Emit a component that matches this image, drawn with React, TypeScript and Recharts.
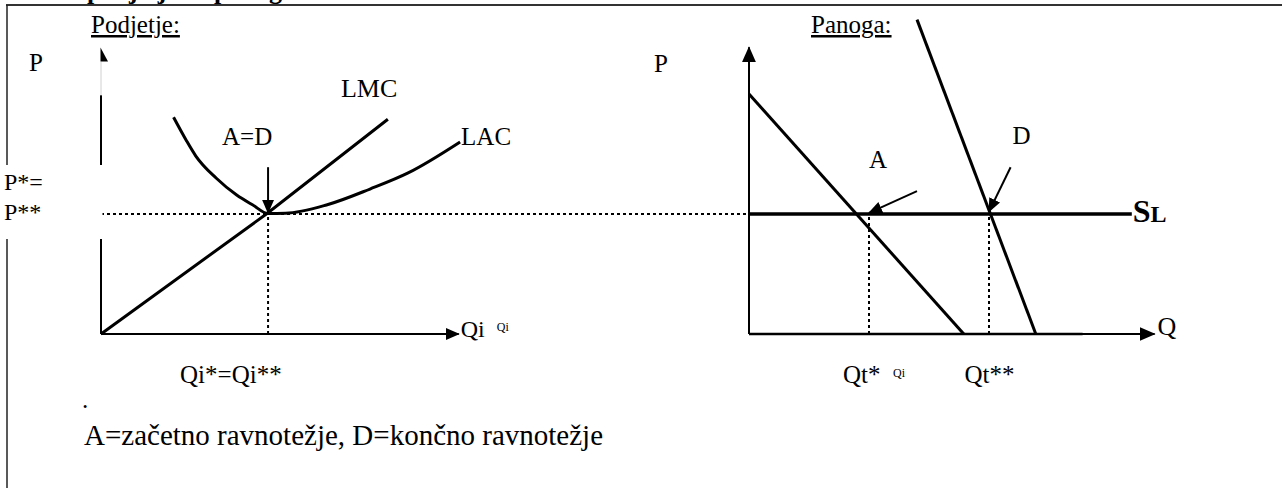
import React from 'react';
import { ComposedChart, Line, XAxis, YAxis, ReferenceLine, ReferenceDot } from 'recharts';

const W = 1282;
const H = 488;
const FONT = '"Liberation Serif", serif';

// ---------- shared price scale ----------
const P_DOMAIN = [0, 26.5];
const P_STAR = 10; // P* = P**
const P_AXIS_TOP = 23.9;

// ---------- Podjetje (firm) ----------
const FIRM_DOMAIN = [0, 32];
const QI_STAR = 4.95; // Qi* = Qi**
const QI_AXIS_END = 10.6;
const P_FIRM_AXIS_SOLID = 19.9;
const P_FIRM_AXIS_FAINT = 22.7;
const P_STAR_LINE_END_QI = 19.15;
const FIRM_ARROW_FROM_P = 13.9;
const FIRM_ARROW_TO_P = 10.1;

const lmcQi = [0, 4.9, 8.5];
const lmcP = [0, 10, 17.9];
const lacQi = [2.15, 2.52, 2.81, 3.41, 4.02, 4.5, 4.95, 5.47, 6.68, 7.97, 9.1, 10.64];
const lacP = [18.06, 16.17, 14.83, 13.0, 11.58, 10.75, 10.04, 10.06, 10.75, 12.08, 13.42, 16.0];

// ---------- Panoga (industry) ----------
const IND_DOMAIN = [-54, 36];
const QT_STAR = 10;
const QT_STAR2 = 20;
const Q_AXIS_END = 33.8;
const Q_AXIS_THICK_END = 27.8;
const demandAQ = [0, 17.9];
const demandAP = [20, 0];
const demandDQ = [14, 23.9];
const demandDP = [26.2, 0];
const supplyQ = [0, 31.9];
const arrowAQ = [14, 10];
const arrowAP = [11.9, 10.1];
const arrowDQ = [21.8, 20];
const arrowDP = [13.9, 10.2];

// ---------- texts ----------
const titleText = 'podjetja in panoge';
const panelTitles = ['Podjetje:', 'Panoga:'];
const legendText = 'A=začetno ravnotežje, D=končno ravnotežje';
const pStarLabels = ['P*=', 'P**'];

const toFirm = (qs: number[], ps: number[]) => qs.map((qi, i) => ({ qi, p: ps[i] }));
const toInd = (qs: number[], ps: number[]) => qs.map((q, i) => ({ q, p: ps[i] }));

const lmcData = toFirm(lmcQi, lmcP);
const lacData = toFirm(lacQi, lacP);
const demandAData = toInd(demandAQ, demandAP);
const demandDData = toInd(demandDQ, demandDP);
const supplyData = toInd(supplyQ, [P_STAR, P_STAR]);

const txt =
  (s: string, dx: number, dy: number, size = 25, extra: any = {}) =>
  (props: any) => (
    <text x={props.cx + dx} y={props.cy + dy} style={{ fontFamily: FONT, fontSize: size }} fill="#000" {...extra}>
      {s}
    </text>
  );

const halfArrow = (props: any) => (
  <polygon
    points={`${props.cx - 0.5},${props.cy - 14} ${props.cx + 7},${props.cy} ${props.cx - 0.5},${props.cy}`}
    fill="#000"
  />
);

const slLabel = (props: any) => (
  <text x={props.cx + 1} y={props.cy + 8} style={{ fontFamily: FONT, fontWeight: 'bold' }} fill="#000">
    <tspan style={{ fontSize: 32 }}>S</tspan>
    <tspan style={{ fontSize: 24 }}>L</tspan>
  </text>
);

const dotted = { stroke: '#000', strokeWidth: 2, strokeDasharray: '3 3' };
const solid = { stroke: '#000', strokeWidth: 2 };

export default function App() {
  const t = (size: number, extra: any = {}) => ({ fontFamily: FONT, fontSize: size, ...extra });
  return (
    <div style={{ position: 'absolute', left: 0, top: 0, width: W, height: H, background: '#fff' }}>
      <div style={{ position: 'absolute', left: 0, top: 0 }}>
        <ComposedChart width={W} height={H} margin={{ top: 16, right: 101, bottom: 154, left: 101 }}>
          <defs>
            <marker id="arrowSmall" viewBox="0 0 14 12" refX="13" refY="6" markerWidth="14" markerHeight="12"
              markerUnits="userSpaceOnUse" orient="auto">
              <path d="M0,0 L14,6 L0,12 z" fill="#000" />
            </marker>
            <marker id="arrowBig" viewBox="0 0 16 14" refX="15" refY="7" markerWidth="16" markerHeight="14"
              markerUnits="userSpaceOnUse" orient="auto">
              <path d="M0,0 L16,7 L0,14 z" fill="#000" />
            </marker>
          </defs>
          <XAxis xAxisId="firm" type="number" dataKey="qi" domain={FIRM_DOMAIN} hide />
          <XAxis xAxisId="ind" type="number" dataKey="q" domain={IND_DOMAIN} hide />
          <YAxis type="number" domain={P_DOMAIN} hide />

          {/* ----- firm axes ----- */}
          <ReferenceLine xAxisId="firm" segment={[{ x: 0, y: 0 }, { x: 0, y: P_FIRM_AXIS_SOLID }]} {...solid} />
          <ReferenceLine xAxisId="firm" segment={[{ x: 0, y: P_FIRM_AXIS_SOLID }, { x: 0, y: P_FIRM_AXIS_FAINT }]}
            stroke="#d0d0d0" strokeWidth={1} />
          <ReferenceDot xAxisId="firm" x={0} y={P_FIRM_AXIS_FAINT} shape={halfArrow} ifOverflow="visible" />
          <ReferenceLine xAxisId="firm" segment={[{ x: 0, y: 0 }, { x: QI_AXIS_END, y: 0 }]} {...solid}
            markerEnd="url(#arrowSmall)" />

          {/* ----- firm guides ----- */}
          <ReferenceLine xAxisId="firm" segment={[{ x: 0, y: P_STAR }, { x: P_STAR_LINE_END_QI, y: P_STAR }]} {...dotted} />
          <ReferenceLine xAxisId="firm" segment={[{ x: QI_STAR, y: 0 }, { x: QI_STAR, y: P_STAR }]} {...dotted} />

          {/* ----- industry axes ----- */}
          <ReferenceLine xAxisId="ind" segment={[{ x: 0, y: 0 }, { x: 0, y: P_AXIS_TOP }]} {...solid}
            markerEnd="url(#arrowBig)" />
          <ReferenceLine xAxisId="ind" segment={[{ x: 0, y: 0 }, { x: Q_AXIS_END, y: 0 }]} {...solid}
            markerEnd="url(#arrowBig)" />
          <ReferenceLine xAxisId="ind" segment={[{ x: 0, y: 0 }, { x: Q_AXIS_THICK_END, y: 0 }]} stroke="#000"
            strokeWidth={2.6} />
          <ReferenceLine xAxisId="ind" segment={[{ x: QT_STAR, y: 0 }, { x: QT_STAR, y: P_STAR }]} {...dotted} />
          <ReferenceLine xAxisId="ind" segment={[{ x: QT_STAR2, y: 0 }, { x: QT_STAR2, y: P_STAR }]} {...dotted} />

          {/* ----- curves ----- */}
          <Line xAxisId="firm" data={lmcData} dataKey="p" type="linear" stroke="#000" strokeWidth={3}
            dot={false} activeDot={false} isAnimationActive={false} />
          <Line xAxisId="firm" data={lacData} dataKey="p" type="monotone" stroke="#000" strokeWidth={3}
            dot={false} activeDot={false} isAnimationActive={false} />
          <Line xAxisId="ind" data={demandAData} dataKey="p" type="linear" stroke="#000" strokeWidth={3}
            dot={false} activeDot={false} isAnimationActive={false} />
          <Line xAxisId="ind" data={demandDData} dataKey="p" type="linear" stroke="#000" strokeWidth={3}
            dot={false} activeDot={false} isAnimationActive={false} />
          <Line xAxisId="ind" data={supplyData} dataKey="p" type="linear" stroke="#000" strokeWidth={3.5}
            dot={false} activeDot={false} isAnimationActive={false} />

          {/* ----- pointer arrows ----- */}
          <ReferenceLine xAxisId="firm" segment={[{ x: QI_STAR, y: FIRM_ARROW_FROM_P }, { x: QI_STAR, y: FIRM_ARROW_TO_P }]}
            {...solid} markerEnd="url(#arrowSmall)" />
          <ReferenceLine xAxisId="ind" segment={[{ x: arrowAQ[0], y: arrowAP[0] }, { x: arrowAQ[1], y: arrowAP[1] }]}
            {...solid} markerEnd="url(#arrowSmall)" />
          <ReferenceLine xAxisId="ind" segment={[{ x: arrowDQ[0], y: arrowDP[0] }, { x: arrowDQ[1], y: arrowDP[1] }]}
            {...solid} markerEnd="url(#arrowSmall)" />

          {/* ----- labels anchored to the data ----- */}
          <ReferenceDot xAxisId="firm" x={0} y={P_AXIS_TOP} ifOverflow="visible" shape={txt('P', -72, 24)} />
          <ReferenceDot xAxisId="ind" x={0} y={P_AXIS_TOP} ifOverflow="visible" shape={txt('P', -95, 25)} />
          <ReferenceDot xAxisId="firm" x={lmcQi[2]} y={lmcP[2]} ifOverflow="visible" shape={txt('LMC', -47, -22, 26)} />
          <ReferenceDot xAxisId="firm" x={lacQi[lacQi.length - 1]} y={lacP[lacP.length - 1]} ifOverflow="visible"
            shape={txt('LAC', 1, 3)} />
          <ReferenceDot xAxisId="firm" x={QI_STAR} y={FIRM_ARROW_FROM_P} ifOverflow="visible" shape={txt('A=D', -46, -22)} />
          <ReferenceDot xAxisId="firm" x={QI_AXIS_END} y={0} ifOverflow="visible" shape={txt('Qi', 2, 3, 24)} />
          <ReferenceDot xAxisId="firm" x={QI_AXIS_END} y={0} ifOverflow="visible" shape={txt('Qi', 38, -3, 12)} />
          <ReferenceDot xAxisId="firm" x={QI_STAR} y={0} ifOverflow="visible" shape={txt('Qi*=Qi**', -88, 49)} />

          <ReferenceDot xAxisId="ind" x={arrowAQ[0]} y={arrowAP[0]} ifOverflow="visible" shape={txt('A', -48, -23)} />
          <ReferenceDot xAxisId="ind" x={arrowDQ[0]} y={arrowDP[0]} ifOverflow="visible" shape={txt('D', 2, -23)} />
          <ReferenceDot xAxisId="ind" x={supplyQ[1]} y={P_STAR} ifOverflow="visible" shape={slLabel} />
          <ReferenceDot xAxisId="ind" x={Q_AXIS_END} y={0} ifOverflow="visible" shape={txt('Q', 3, 1, 26)} />
          <ReferenceDot xAxisId="ind" x={QT_STAR} y={0} ifOverflow="visible" shape={txt('Qt*', -26, 49)} />
          <ReferenceDot xAxisId="ind" x={QT_STAR} y={0} ifOverflow="visible" shape={txt('Qi', 24, 43, 12)} />
          <ReferenceDot xAxisId="ind" x={QT_STAR2} y={0} ifOverflow="visible" shape={txt('Qt**', -24.5, 49)} />
        </ComposedChart>
      </div>

      {/* page frame and page texts */}
      <svg width={W} height={H} style={{ position: 'absolute', left: 0, top: 0, pointerEvents: 'none' }} fill="#000">
        <text x={87} y={-1} style={t(26, { fontWeight: 'bold' })}>{titleText}</text>
        <line x1={6} y1={5} x2={W} y2={5} stroke="#333" strokeWidth={2} />
        <line x1={7} y1={5} x2={7} y2={H} stroke="#222" strokeWidth={1.5} />
        <rect x={0} y={165} width={102.5} height={74} fill="#fff" />
        <text x={4} y={190} style={t(24)}>{pStarLabels[0]}</text>
        <text x={4} y={220} style={t(24)}>{pStarLabels[1]}</text>
        <text x={91} y={33} style={t(25, { textDecoration: 'underline' })}>{panelTitles[0]}</text>
        <text x={811} y={33} style={t(25, { textDecoration: 'underline' })}>{panelTitles[1]}</text>
        <text x={82} y={408} style={t(25)}>.</text>
        <text x={84} y={445} style={t(29)}>{legendText}</text>
      </svg>
    </div>
  );
}
